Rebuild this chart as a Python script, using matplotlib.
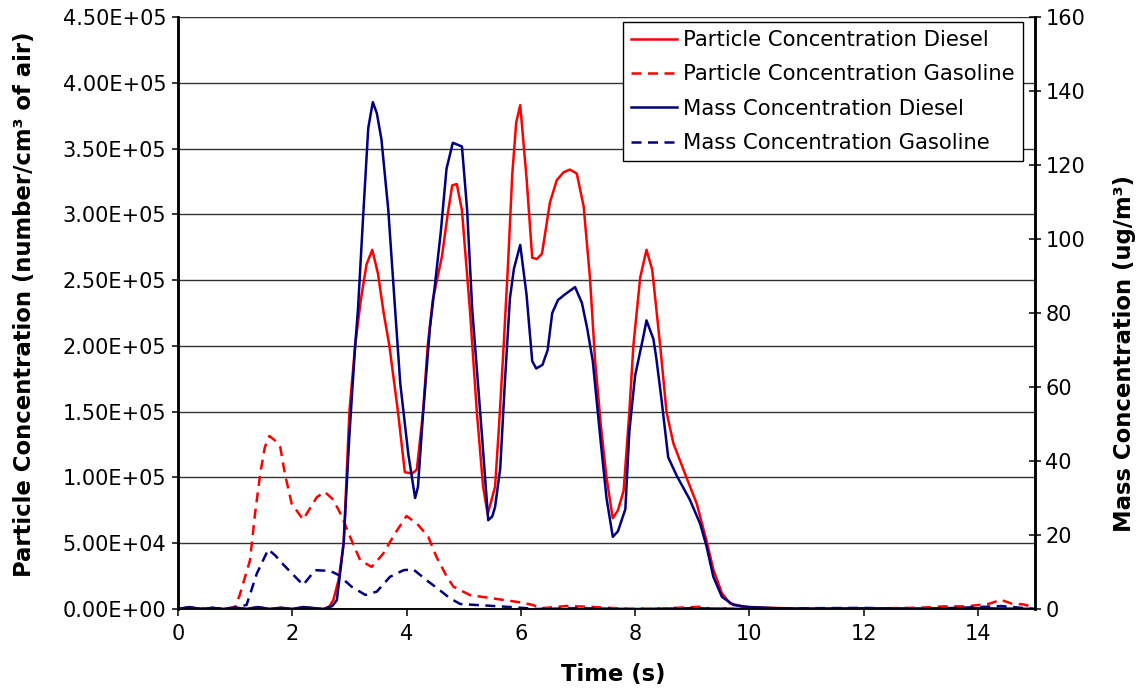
import numpy as np
import matplotlib
matplotlib.use("Agg")
import matplotlib.pyplot as plt

plt.rcParams['font.family'] = ['DejaVu Sans']

# particle concentration, diesel (thousands of particles per cm3)
t_pd = [0, 0.2, 0.4, 0.6, 0.8, 1.0, 1.2, 1.4, 1.6, 1.8, 2.0, 2.2, 2.4, 2.55, 2.65, 2.72, 2.81, 2.9,
        3.0, 3.1, 3.2, 3.3, 3.4, 3.5, 3.6, 3.7, 3.85, 3.97, 4.1, 4.18, 4.29, 4.37, 4.46, 4.62, 4.72,
        4.8, 4.88, 4.97, 5.11, 5.23, 5.34, 5.42, 5.55, 5.62, 5.7, 5.78, 5.85, 5.92, 5.99, 6.1, 6.2,
        6.28, 6.37, 6.51, 6.63, 6.75, 6.86, 6.98, 7.1, 7.21, 7.3, 7.4, 7.5, 7.61, 7.7, 7.8, 7.9,
        7.97, 8.09, 8.2, 8.3, 8.44, 8.55, 8.67, 8.9, 9.08, 9.25, 9.37, 9.52, 9.66, 9.9, 10.4, 11.0,
        12.0, 13.0, 14.0, 15.0]
v_pd = [0, 1.5, 0, 0.5, 0, 1, 0, 1.5, 0, 1, 0, 1.5, 0.5, 0, 2, 7, 22, 50,
        150, 200, 235, 262, 273, 255, 225, 200, 150, 104, 103, 106, 150, 200, 235, 268, 300,
        322, 323, 303, 227, 150, 93, 72, 93, 140, 200, 265, 330, 370, 383, 328, 267,
        266, 270, 309, 326, 332, 334, 331, 306, 252, 189, 140, 100, 69, 75, 90, 150,
        200, 252, 273, 258, 200, 150, 126, 100, 80, 52, 30, 12, 4.3, 1.7, 0.8, 0.3,
        0, 0.5, 0, 0]

# particle concentration, gasoline (thousands)
t_pg = [0, 0.2, 0.4, 0.6, 0.8, 1.0, 1.08, 1.26, 1.35, 1.44, 1.52, 1.6, 1.7, 1.79, 1.87, 1.99,
        2.19, 2.43, 2.57, 2.72, 2.86, 3.04, 3.19, 3.39, 3.59, 3.8, 4.0, 4.18, 4.38, 4.52, 4.7,
        4.82, 5.11, 5.52, 6.0, 6.22, 6.34, 6.8, 7.2, 7.8, 8.4, 9.14, 9.3, 10, 11, 12, 13, 13.4,
        13.8, 14.0, 14.2, 14.4, 14.6, 14.8, 15]
v_pg = [0, 1, 0, 0.8, 0, 1.5, 10.6, 37, 73, 103, 123, 131.5, 128, 123, 103, 80,
        68, 85, 89, 83, 71, 52, 37, 32, 42, 57.5, 70.7, 65, 55, 40, 25,
        17, 10.6, 8, 5, 3, 0.5, 2.3, 1.7, 0.3, 0.3, 1.7, 0.5, 0.3, 0.5, 0.3, 1, 2,
        2, 3, 4, 7, 4, 3.5, 1]

# mass concentration, diesel (ug/m3)
t_md = [0, 0.2, 0.4, 0.6, 0.8, 1.0, 1.2, 1.4, 1.6, 1.8, 2.0, 2.2, 2.4, 2.55, 2.7, 2.78, 2.84,
        2.9, 3.0, 3.1, 3.15, 3.24, 3.33, 3.41, 3.48, 3.56, 3.68, 3.8, 3.89, 4.03, 4.15, 4.2,
        4.29, 4.41, 4.5, 4.6, 4.7, 4.81, 4.97, 5.06, 5.15, 5.32, 5.43, 5.5, 5.55, 5.64, 5.72,
        5.81, 5.88, 5.99, 6.1, 6.2, 6.27, 6.38, 6.47, 6.55, 6.65, 6.77, 6.95, 7.07, 7.16, 7.26,
        7.4, 7.5, 7.61, 7.7, 7.83, 7.9, 8.0, 8.15, 8.2, 8.32, 8.37, 8.46, 8.58, 8.73, 8.96,
        9.14, 9.25, 9.37, 9.52, 9.72, 10.0, 10.5, 11, 12, 13, 14, 15]
v_md = [0, 0.5, 0, 0.3, 0, 0.4, 0, 0.5, 0, 0.3, 0, 0.5, 0.2, 0, 0.8, 2.4, 10,
        18, 47, 71, 81, 106, 130, 137, 134, 127, 108, 81, 61, 42, 30, 33,
        53, 76, 88, 102, 119, 126, 125, 108, 81, 47, 24, 25, 27.6, 38, 61,
        84, 92, 98.4, 85, 67, 65, 66, 70, 80, 83.5, 85, 87, 82.7, 76, 67,
        45, 30, 19.5, 21, 27, 48, 63, 74, 78, 73, 68, 57, 41, 36, 29.5,
        23, 17, 8.7, 3.3, 1.1, 0.5, 0.2, 0, 0.2, 0, 0.2, 0]

# mass concentration, gasoline (ug/m3)
t_mg = [0, 0.2, 0.4, 0.6, 0.8, 1.0, 1.2, 1.38, 1.58, 1.7, 1.85, 2.19, 2.4, 2.66, 2.81, 3.04,
        3.28, 3.48, 3.71, 3.95, 4.12, 4.35, 4.58, 4.76, 4.94, 5.75, 6.3, 7, 8, 9, 10, 11, 12,
        13, 14, 14.4, 15]
v_mg = [0, 0.3, 0, 0.3, 0, 0.3, 1.1, 9.6, 16.1, 14.5, 11.9, 6.5, 10.5, 10.3, 9.2, 6.0,
        3.8, 4.7, 8.7, 10.5, 10.7, 7.8, 5.1, 2.9, 1.35, 0.6, 0, 0.2, 0, 0.2, 0, 0.2, 0.3,
        0, 0.5, 0.8, 0]

left_ticks = np.arange(0, 450001, 50000)
right_ticks = np.arange(0, 161, 20)
x_ticks = np.arange(0, 15, 2)

red = '#FF0000'
navy = '#000080'
dash = (0, (4, 2.6))

fig = plt.figure(figsize=(11.43, 6.9), dpi=100)
ax = fig.add_axes([178/1143, 1 - 609/690, 857/1143, 592/690])
ax2 = ax.twinx()

l1, = ax.plot(t_pd, np.array(v_pd) * 1000, color=red, lw=1.8, solid_joinstyle='round',
              label='Particle Concentration Diesel')
l2, = ax.plot(t_pg, np.array(v_pg) * 1000, color=red, lw=1.8, linestyle=dash,
              label='Particle Concentration Gasoline')
l3, = ax2.plot(t_md, v_md, color=navy, lw=1.8, solid_joinstyle='round',
               label='Mass Concentration Diesel')
l4, = ax2.plot(t_mg, v_mg, color=navy, lw=1.8, linestyle=dash,
               label='Mass Concentration Gasoline')

ax.set_xlim(0, 15)
ax.set_ylim(0, 450000)
ax2.set_ylim(0, 160)
ax.set_xticks(x_ticks)
ax.set_yticks(left_ticks)
ax.set_yticklabels(['%.2E' % v for v in left_ticks])
ax2.set_yticks(right_ticks)

ax.yaxis.grid(True, color='#333333', lw=1.0)
ax.set_axisbelow(True)

for a in (ax, ax2):
    a.spines['top'].set_visible(False)
    a.spines['left'].set_linewidth(1.8)
    a.spines['right'].set_linewidth(1.8)
    a.spines['bottom'].set_linewidth(1.1)

ax.tick_params(axis='y', direction='out', length=4.5, width=1.1, labelsize=15, pad=4)
ax.tick_params(axis='x', direction='out', length=5, width=1.1, labelsize=15, pad=6)
ax2.tick_params(axis='y', direction='inout', length=9, width=1.1, labelsize=15, pad=3)

fig.text(25/1143, 1 - 304/690, 'Particle Concentration (number/cm³ of air)', rotation=90,
         ha='center', va='center', fontsize=16.4, fontweight='bold')
fig.text(1124/1143, 1 - 354/690, 'Mass Concentration (ug/m³)', rotation=90,
         ha='center', va='center', fontsize=16.4, fontweight='bold')
fig.text(613/1143, 1 - 675/690, 'Time (s)', ha='center', va='center',
         fontsize=16.4, fontweight='bold')

leg = ax2.legend(handles=[l1, l2, l3, l4], loc='upper right',
                 bbox_to_anchor=(1023/1143, 1 - 22/690), bbox_transform=fig.transFigure,
                 borderaxespad=0, fontsize=15.2, frameon=True, fancybox=False,
                 framealpha=1, edgecolor='black', handlelength=2.2, handletextpad=0.3,
                 labelspacing=0.68, borderpad=0.38)
leg.get_frame().set_linewidth(1.0)

fig.savefig('out.png', dpi=100)
